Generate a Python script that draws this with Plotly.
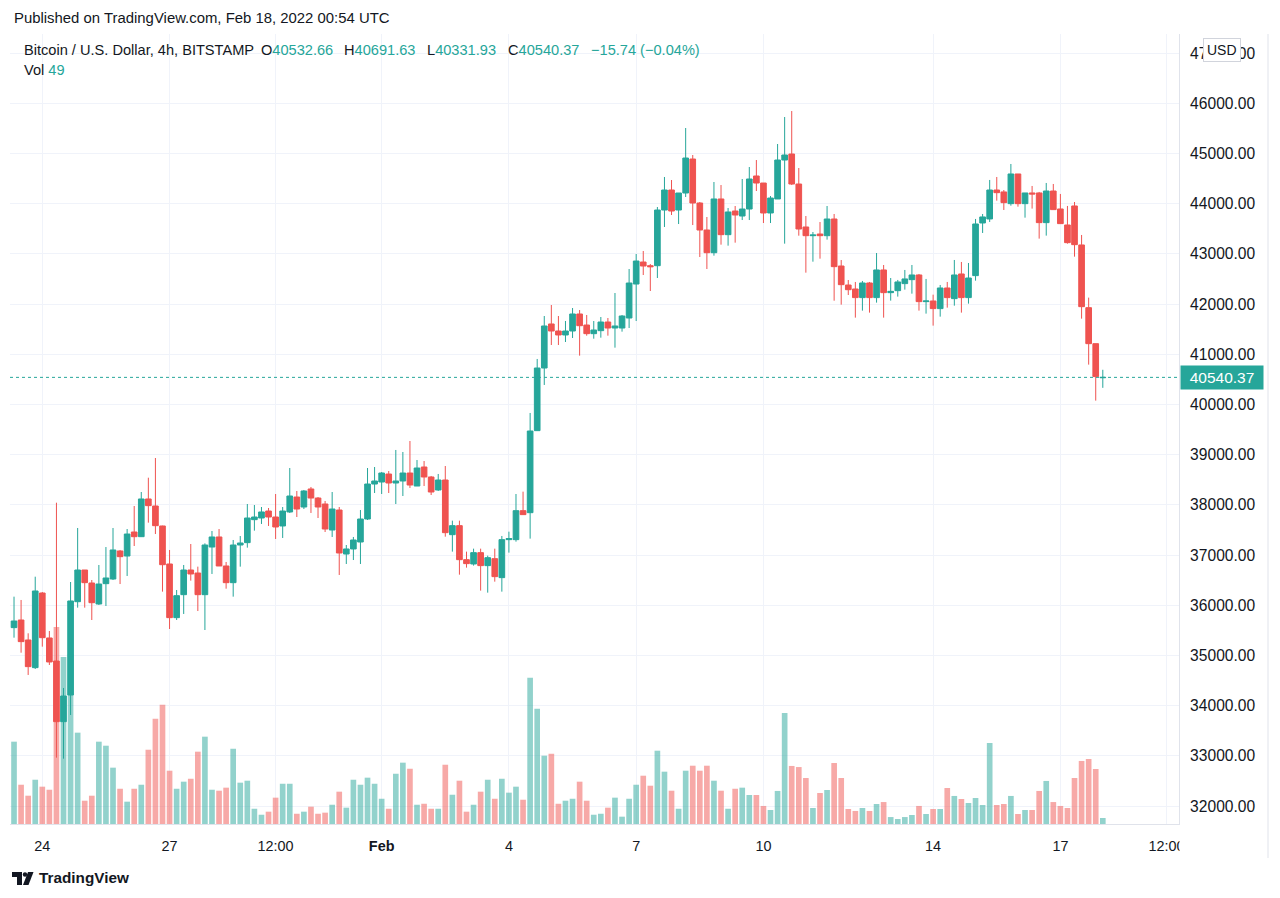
import plotly.graph_objects as go
import pandas as pd

# ---------------- data ----------------
times = pd.date_range("2022-01-23 08:00", periods=155, freq="4h")

opens = [35555, 35707, 35309, 34758, 36245, 35349, 34890, 33682, 34213, 36072,
         36703, 36444, 36026, 36431, 36524, 37082, 36982, 37460, 37367, 38118,
         37978, 37580, 36823, 35754, 36212, 36703, 36643, 36212, 37161, 37361,
         36783, 36451, 37201, 37248, 37706, 37739, 37878, 37759, 37580, 37859,
         38157, 37958, 38317, 38137, 38018, 37500, 37898, 37022, 37122, 37261,
         37719, 38416, 38456, 38615, 38436, 38476, 38635, 38376, 38755, 38556,
         38297, 38496, 37407, 37587, 36909, 36823, 37049, 36790, 36929, 36551,
         37308, 37308, 37885, 37845, 39479, 40727, 41604, 41464, 41385, 41464,
         41803, 41583, 41411, 41471, 41643, 41524, 41524, 41723, 42400, 42838,
         42765, 42765, 43874, 44273, 43874, 44213, 44890, 44014, 43476, 43024,
         44094, 43383, 43854, 43755, 43894, 44552, 44412, 43815, 44094, 44870,
         44990, 44392, 43536, 43363, 43396, 43363, 43695, 42759, 42380, 42301,
         42129, 42421, 42129, 42680, 42228, 42268, 42408, 42487, 42580, 42049,
         42062, 41910, 42321, 42109, 42600, 42129, 42567, 43616, 43696, 44273,
         44234, 44001, 44592, 44001, 44214, 44214, 43623, 44253, 43895, 43576,
         43955, 43178, 41929, 41212, 40532.66]
highs = [36172, 36106, 35442, 36570, 36265, 35488, 38044, 34353, 36464, 37540,
         36703, 36504, 36803, 37161, 37540, 37102, 37520, 37978, 38257, 38542,
         38934, 37586, 37102, 36305, 36803, 37221, 36770, 37234, 37480, 37520,
         36863, 37301, 37380, 38018, 37998, 37958, 37938, 38217, 37958, 38735,
         38277, 38297, 38357, 38157, 38078, 38257, 37958, 37201, 37361, 37898,
         38735, 38755, 38655, 38675, 39094, 39054, 39273, 38894, 38874, 38576,
         38616, 38775, 37686, 37686, 37069, 37128, 37128, 36989, 37128, 37381,
         37467, 38217, 38264, 39831, 40907, 41763, 41982, 41763, 41664, 41922,
         41882, 41783, 41663, 41743, 41723, 42221, 41783, 42699, 42998, 43058,
         42798, 43934, 44532, 44472, 44213, 45508, 44970, 44034, 43735, 44432,
         44372, 43914, 43954, 44492, 44731, 44870, 44412, 44153, 45189, 45727,
         45846, 44711, 43755, 43436, 43635, 43954, 43795, 42878, 42480, 42441,
         42461, 42441, 43018, 42779, 42520, 42481, 42680, 42779, 42600, 42501,
         42188, 42381, 42441, 42879, 42839, 42819, 43696, 43795, 44473, 44532,
         44273, 44791, 44592, 44214, 44353, 44234, 44413, 44393, 44194, 43955,
         44034, 43377, 42129, 41212, 40691.63]
lows = [35355, 35056, 34612, 34731, 35176, 34811, 32965, 32945, 33815, 35953,
        35953, 35707, 36006, 35986, 36504, 36424, 36584, 37181, 37361, 37646,
        37420, 36272, 35528, 35707, 35827, 36491, 35886, 35508, 36624, 36783,
        36331, 36172, 36770, 37148, 37487, 37620, 37580, 37321, 37341, 37839,
        37759, 37918, 37839, 37739, 37460, 37361, 36604, 36823, 36902, 36823,
        37699, 38237, 38217, 38237, 38018, 38177, 38337, 38376, 38376, 38197,
        38277, 37367, 37069, 36610, 36750, 36790, 36292, 36252, 36471, 36272,
        37049, 37268, 37806, 37328, 39479, 40389, 41185, 41185, 41245, 41325,
        40973, 41371, 41311, 41331, 41371, 41132, 41451, 41524, 41663, 42579,
        42261, 42520, 43536, 43775, 43595, 44133, 43575, 42938, 42699, 42965,
        43184, 43164, 43224, 43675, 43675, 44253, 43615, 43615, 44094, 43204,
        44372, 43363, 42626, 42845, 42905, 43284, 42068, 41989, 42181, 41730,
        41870, 41830, 42029, 41730, 42069, 42149, 42288, 42208, 41870, 41810,
        41571, 41750, 41929, 41969, 41830, 42009, 42467, 43417, 43636, 44061,
        43875, 43961, 43941, 43722, 43902, 43304, 43364, 43882, 43603, 43204,
        42945, 41710, 40794, 40077, 40331.93]
closes = [35687, 35276, 34778, 36285, 35355, 34871, 33682, 34193, 36086, 36703,
          36451, 36052, 36424, 36544, 37102, 36969, 37420, 37367, 38118, 37985,
          37586, 36809, 35754, 36192, 36703, 36624, 36212, 37201, 37361, 36783,
          36451, 37201, 37241, 37739, 37759, 37859, 37759, 37560, 37878, 38177,
          37918, 38277, 38137, 37958, 37520, 37918, 37042, 37122, 37301, 37719,
          38416, 38476, 38635, 38436, 38476, 38635, 38396, 38735, 38556, 38257,
          38496, 37447, 37587, 36909, 36830, 37049, 36790, 36949, 36571, 37308,
          37328, 37885, 37806, 39472, 40727, 41564, 41464, 41385, 41464, 41803,
          41570, 41411, 41484, 41643, 41524, 41564, 41763, 42420, 42858, 42759,
          42745, 43874, 44273, 43854, 44213, 44910, 44014, 43476, 43024, 44094,
          43383, 43835, 43775, 43894, 44492, 44412, 43815, 44113, 44870, 44970,
          44392, 43496, 43363, 43376, 43363, 43695, 42746, 42387, 42287, 42129,
          42421, 42129, 42680, 42228, 42254, 42441, 42501, 42580, 42049, 42062,
          41910, 42321, 42129, 42580, 42129, 42520, 43596, 43736, 44273, 44220,
          44021, 44592, 44001, 44214, 44194, 43623, 44253, 43882, 43603, 43224,
          43184, 41949, 41212, 40556.11, 40540.37]
volumes = [675, 322, 232, 363, 306, 281, 1615, 1369, 1394, 749,
           191, 232, 675, 642, 462, 289, 183, 289, 322, 609,
           863, 978, 437, 289, 347, 371, 593, 716, 281, 273,
           298, 617, 339, 355, 125, 76, 101, 216, 330, 330,
           84, 101, 142, 84, 93, 158, 265, 134, 363, 322,
           380, 330, 207, 125, 412, 503, 453, 158, 166, 125,
           125, 486, 240, 355, 101, 158, 265, 363, 207, 371,
           257, 306, 199, 1200, 945, 560, 576, 166, 191, 207,
           347, 191, 76, 84, 134, 216, 60, 207, 322, 396,
           314, 601, 429, 273, 125, 437, 478, 437, 478, 355,
           273, 125, 289, 298, 238, 238, 148, 115, 271, 910,
           476, 467, 377, 131, 254, 279, 500, 377, 123, 107,
           131, 107, 164, 180, 57, 41, 57, 74, 148, 82,
           123, 123, 295, 230, 205, 172, 213, 156, 664, 156,
           164, 230, 82, 115, 115, 271, 353, 180, 148, 131,
           377, 517, 533, 451, 49]

tick_times = ["2022-01-24", "2022-01-27", "2022-01-29 12:00", "2022-02-01",
              "2022-02-04", "2022-02-07", "2022-02-10", "2022-02-14",
              "2022-02-17", "2022-02-19 12:00"]
tick_text = ["24", "27", "12:00", "<b>Feb</b>", "4", "7", "10", "14", "17", "12:00"]
price_ticks = list(range(32000, 48000, 1000))
price_text = [f"{p:.2f}" for p in price_ticks]
last_price = 40540.37

# ---------------- style / geometry ----------------
UP, DOWN = "#26a69a", "#ef5350"
UP_V, DOWN_V = "rgba(38,166,154,0.5)", "rgba(239,83,80,0.5)"
TXT = "#131722"
GRID = "#f0f3fa"
FONT = "Liberation Sans"

# the page body adds an 8px offset, so the figure is 8px smaller and shifted
OFF = 8
W, H = 1280 - OFF, 898 - OFF
PL, PR, PT, PB = 10, 1179, 34, 824   # plot area edges, in screen pixels

def ax(px):
    return (px - PL) / (PR - PL)

def ay(py):
    return (PB - py) / (PB - PT)

t0 = pd.Timestamp("2022-01-24")
px_per_day = 42.42
x_start = t0 + pd.Timedelta(days=(PL - 42.3) / px_per_day)
x_end = t0 + pd.Timedelta(days=(PR - 42.3) / px_per_day)

def price_at(py):
    return 46000 - (py - 103.3) * (1000 / 50.2)

vol_per_px = 8.2

vol_colors = [UP_V if c >= o else DOWN_V for o, c in zip(opens, closes)]

fig = go.Figure()
fig.add_trace(go.Bar(x=times, y=volumes, marker=dict(color=vol_colors, line=dict(width=0)),
                     yaxis="y", showlegend=False, hoverinfo="skip"))
fig.add_trace(go.Candlestick(x=times, open=opens, high=highs, low=lows, close=closes,
                             yaxis="y2", whiskerwidth=0,
                             increasing=dict(line=dict(color=UP, width=1), fillcolor=UP),
                             decreasing=dict(line=dict(color=DOWN, width=1), fillcolor=DOWN),
                             showlegend=False, hoverinfo="skip"))

HS = 14.6
annotations = []
annotations.append(dict(x=ax(12), y=ay(18), xref="paper", yref="paper", xanchor="left", yanchor="middle",
                        text="Published on TradingView.com, Feb 18, 2022 00:54 UTC", showarrow=False,
                        font=dict(family=FONT, size=14.9, color=TXT)))
annotations.append(dict(x=ax(22), y=ay(50), xref="paper", yref="paper", xanchor="left", yanchor="middle",
                        text="Bitcoin / U.S. Dollar, 4h, BITSTAMP", showarrow=False,
                        font=dict(family=FONT, size=HS, color=TXT)))
ohlc_parts = [(259, "O", "40532.66"), (342, "H", "40691.63"), (425, "L", "40331.93"), (506, "C", "40540.37")]
for px, lab, val in ohlc_parts:
    annotations.append(dict(x=ax(px), y=ay(50), xref="paper", yref="paper", xanchor="left", yanchor="middle",
                            text=f"{lab}<span style='color:{UP}'>{val}</span>", showarrow=False,
                            font=dict(family=FONT, size=HS, color=TXT)))
annotations.append(dict(x=ax(589), y=ay(50), xref="paper", yref="paper", xanchor="left", yanchor="middle",
                        text="\u221215.74 (\u22120.04%)", showarrow=False,
                        font=dict(family=FONT, size=HS, color=UP)))
annotations.append(dict(x=ax(22), y=ay(70), xref="paper", yref="paper", xanchor="left", yanchor="middle",
                        text=f"Vol <span style='color:{UP}'>49</span>", showarrow=False,
                        font=dict(family=FONT, size=HS, color=TXT)))
annotations.append(dict(x=ax(1180), y=last_price, xref="paper", yref="y2", xanchor="left", yanchor="middle",
                        text="40540.37", showarrow=False, bgcolor=UP, borderpad=3, width=76,
                        font=dict(family=FONT, size=15.5, color="white")))
annotations.append(dict(x=ax(1222), y=ay(50), xref="paper", yref="paper", xanchor="center", yanchor="middle",
                        text="USD", showarrow=False, bgcolor="white", bordercolor="#d1d4dc", borderwidth=1,
                        borderpad=3, font=dict(family=FONT, size=14, color=TXT)))
annotations.append(dict(x=ax(37), y=ay(878), xref="paper", yref="paper", xanchor="left", yanchor="middle",
                        text="<b>TradingView</b>", showarrow=False,
                        font=dict(family=FONT, size=15.3, color=TXT)))

shapes = [
    dict(type="line", xref="paper", yref="y2", x0=0, x1=1, y0=last_price, y1=last_price,
         line=dict(color=UP, width=1, dash="dot")),
    dict(type="rect", xref="paper", yref="paper", x0=ax(PR + 0.5), x1=ax(1267), y0=ay(857), y1=ay(PB + 1),
         fillcolor="white", line=dict(width=0), layer="above"),
    dict(type="line", xref="paper", yref="paper", x0=ax(1268), x1=ax(1268), y0=ay(858), y1=ay(34),
         line=dict(color="#e0e3eb", width=1)),
    dict(type="path", xref="paper", yref="paper",
         path=(f"M {ax(12)} {ay(872)} L {ax(22)} {ay(872)} L {ax(22)} {ay(885)} L {ax(17)} {ay(885)} "
               f"L {ax(17)} {ay(877)} L {ax(12)} {ay(877)} Z"),
         fillcolor=TXT, line=dict(width=0)),
    dict(type="circle", xref="paper", yref="paper", x0=ax(22.8), x1=ax(27.2), y0=ay(876.7), y1=ay(872.3),
         fillcolor=TXT, line=dict(width=0)),
    dict(type="path", xref="paper", yref="paper",
         path=(f"M {ax(28)} {ay(872)} L {ax(33.5)} {ay(872)} L {ax(28.5)} {ay(885)} L {ax(23)} {ay(885)} Z"),
         fillcolor=TXT, line=dict(width=0)),
]

fig.update_layout(
    width=W, height=H,
    margin=dict(l=PL - OFF, r=W - (PR - OFF), t=PT - OFF, b=H - (PB - OFF)),
    paper_bgcolor="white", plot_bgcolor="white",
    font=dict(family=FONT, color=TXT),
    bargap=0.2, boxgap=0.2, boxgroupgap=0,
    xaxis=dict(type="date", range=[str(x_start), str(x_end)], rangeslider=dict(visible=False),
               tickvals=tick_times, ticktext=tick_text, showgrid=True, gridcolor=GRID, gridwidth=1,
               ticks="outside", ticklen=9, tickcolor="rgba(0,0,0,0)",
               showline=True, linecolor="#e0e3eb", linewidth=1,
               tickfont=dict(family=FONT, size=14.4, color=TXT), zeroline=False),
    yaxis=dict(range=[0, (PB - PT) * vol_per_px], visible=False, showgrid=False, fixedrange=True),
    yaxis2=dict(overlaying="y", side="right", range=[price_at(PB), price_at(PT)],
                tickvals=price_ticks, ticktext=price_text, showgrid=True, gridcolor=GRID, gridwidth=1,
                ticks="outside", ticklen=7, tickcolor="rgba(0,0,0,0)",
                showline=True, linecolor="#e0e3eb", linewidth=1,
                tickfont=dict(family=FONT, size=15.6, color=TXT), zeroline=False),
    annotations=annotations,
    shapes=shapes,
)

fig.write_html("out.html")
